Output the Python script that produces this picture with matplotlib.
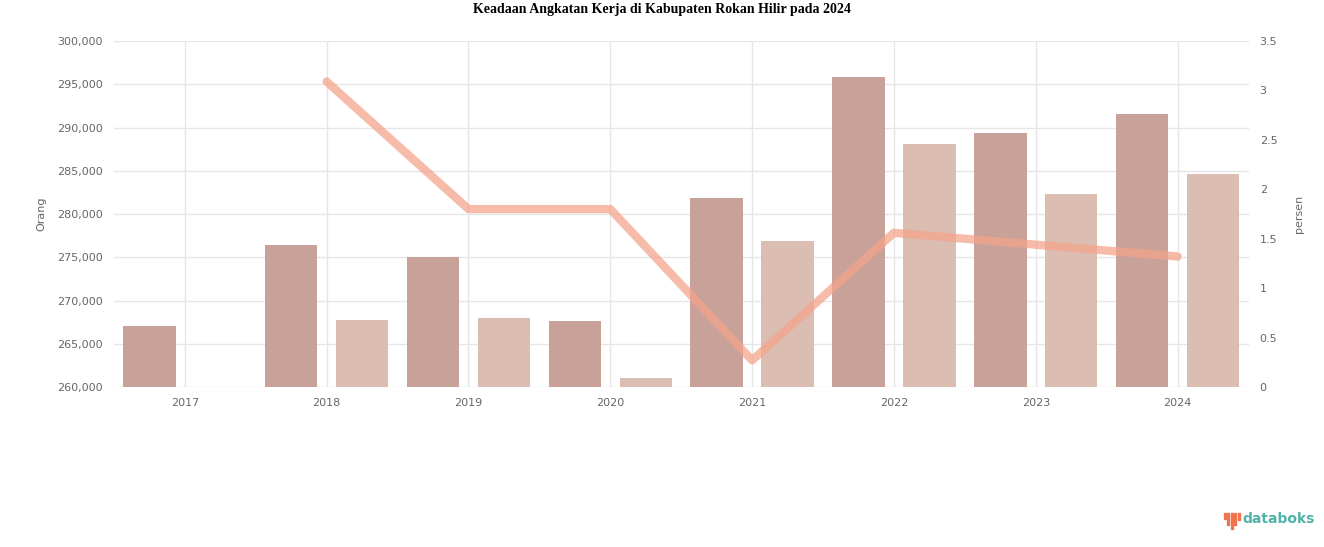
import numpy as np
import matplotlib.pyplot as plt
from matplotlib.patches import Rectangle

tahun = ['2017', '2018', '2019', '2020', '2021', '2022', '2023', '2024']
angkatan_kerja = [267000, 276400, 275000, 267600, 281900, 295800, 289400, 291600]
bekerja = [np.nan, 267800, 268000, 261000, 276900, 288100, 282300, 284600]
persen = [np.nan, 3.09, 1.80, 1.80, 0.27, 1.56, 1.44, 1.32]

left_ticks = [260000, 265000, 270000, 275000, 280000, 285000, 290000, 295000, 300000]
right_ticks = [0, 0.5, 1, 1.5, 2, 2.5, 3, 3.5]

fig = plt.figure(figsize=(13.24, 5.47), dpi=100)
ax = fig.add_axes([0.086, 0.2925, 0.857, 0.6325])
x = np.arange(len(tahun))

ax.bar(x - 0.25, np.array(angkatan_kerja) - 260000, bottom=260000, width=0.37,
       color='#c8a199', zorder=2)
ax.bar(x + 0.25, np.array(bekerja) - 260000, bottom=260000, width=0.37,
       color='#dbbdb2', zorder=2)
ax.set_xlim(-0.5, 7.5)
ax.set_ylim(260000, 300000)
ax.set_yticks(left_ticks)
ax.set_yticklabels([f'{v:,}' for v in left_ticks])
ax.set_xticks(x)
ax.set_xticklabels(tahun)
ax.grid(True, color='#e6e6e6', linewidth=1, zorder=0)
ax.tick_params(length=0, labelsize=8, colors='#666666', pad=8)
for s in ax.spines.values():
    s.set_visible(False)
ax.set_ylabel('Orang', color='#666666', fontsize=8, labelpad=8)

ax2 = ax.twinx()
ax2.plot(x, persen, color='#f4a48c', linewidth=6, alpha=0.75, solid_capstyle='round', zorder=3)
ax2.set_ylim(0, 3.5)
ax2.set_yticks(right_ticks)
ax2.set_yticklabels([f'{v:g}' for v in right_ticks])
ax2.tick_params(length=0, labelsize=8, colors='#666666', pad=8)
for s in ax2.spines.values():
    s.set_visible(False)
ax2.set_ylabel('persen', color='#666666', fontsize=8, labelpad=12)

fig.text(0.5, 0.994, 'Keadaan Angkatan Kerja di Kabupaten Rokan Hilir pada 2024',
         ha='center', va='top', fontsize=10, fontweight='bold', family='Liberation Serif')

# logo databoks
heights = [0.012, 0.022, 0.03, 0.022, 0.014]
for i, h in enumerate(heights):
    fig.patches.append(Rectangle((0.9245 + i * 0.0026, 0.063 - h), 0.0013, h,
                                 transform=fig.transFigure, color='#f0734f'))
fig.text(0.9385, 0.052, 'databoks', ha='left', va='center', fontsize=10,
         color='#4fb3a9', family='DejaVu Sans', fontweight='bold')

fig.savefig('out.png', dpi=100)
